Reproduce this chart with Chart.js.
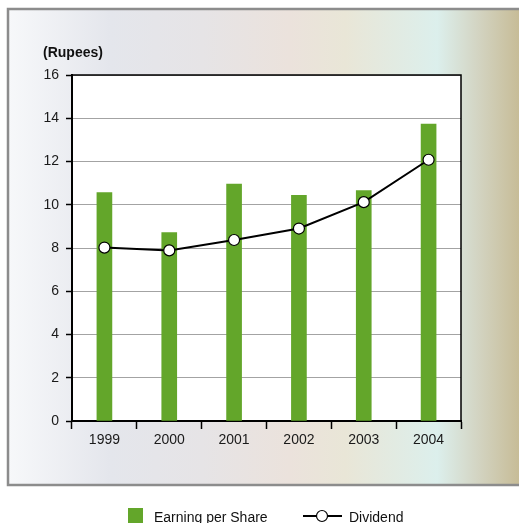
<!DOCTYPE html>
<html>
<head>
<meta charset="utf-8">
<script src="https://cdn.jsdelivr.net/npm/chart.js@4.4.1/dist/chart.umd.min.js"></script>
<style>
  html, body { margin: 0; padding: 0; background: #fff; overflow: hidden; }
  #wrap { width: 519px; height: 523px; }
</style>
</head>
<body>
<div id="wrap"><canvas id="grafico" width="519" height="523"></canvas></div>
<script>
// Dados: EPS e dividendo por ano (em rúpias)
const anos = ['1999', '2000', '2001', '2002', '2003', '2004'];
const lucroPorAcao = [10.56, 8.71, 10.96, 10.43, 10.66, 13.73];
const dividendo = [8.02, 7.89, 8.37, 8.9, 10.12, 12.08];
const unidade = '(Rupees)';
const nomesSeries = ['Earning per Share', 'Dividend'];

const VERDE = '#63a62a';
const FONTE = "Arial, 'Liberation Sans', sans-serif";

// Fundo com degradê, legenda e rótulo de unidade
const decoracao = {
    id: 'decoracao',
    beforeDraw(chart) {
        const ctx = chart.ctx;
        ctx.save();
        const grad = ctx.createLinearGradient(8, 0, 519, 0);
        grad.addColorStop(0.00, '#f7f8fa');
        grad.addColorStop(0.20, '#e4e6ec');
        grad.addColorStop(0.38, '#e6e4e6');
        grad.addColorStop(0.55, '#ebe2dc');
        grad.addColorStop(0.66, '#e9e6d7');
        grad.addColorStop(0.84, '#dcefec');
        grad.addColorStop(0.92, '#d3d4c2');
        grad.addColorStop(1.00, '#c7bc97');
        ctx.fillStyle = grad;
        ctx.fillRect(8, 9, 520, 476);
        ctx.strokeStyle = '#8c8c8c';
        ctx.lineWidth = 2.5;
        ctx.strokeRect(8, 9, 530, 476);

        const a = chart.chartArea;
        ctx.fillStyle = '#ffffff';
        ctx.fillRect(a.left, a.top, a.right - a.left, a.bottom - a.top);
        ctx.restore();
    },
    afterDraw(chart) {
        const ctx = chart.ctx;
        const a = chart.chartArea;
        ctx.save();
        // borda do gráfico
        ctx.strokeStyle = '#000';
        ctx.lineWidth = 1.5;
        ctx.beginPath();
        ctx.moveTo(a.left, a.top);
        ctx.lineTo(a.right, a.top);
        ctx.lineTo(a.right, a.bottom);
        ctx.stroke();

        ctx.fillStyle = '#111';
        ctx.font = 'bold 14px ' + FONTE;
        ctx.textBaseline = 'alphabetic';
        ctx.fillText(unidade, 43, 57);

        // legenda
        ctx.font = '14px ' + FONTE;
        ctx.fillStyle = VERDE;
        ctx.fillRect(128, 508, 15, 16);
        ctx.fillStyle = '#111';
        ctx.fillText(nomesSeries[0], 154, 522);

        ctx.strokeStyle = '#000';
        ctx.lineWidth = 2;
        ctx.beginPath();
        ctx.moveTo(303, 516);
        ctx.lineTo(342, 516);
        ctx.stroke();
        ctx.beginPath();
        ctx.arc(322, 516, 5.5, 0, Math.PI * 2);
        ctx.fillStyle = '#fff';
        ctx.fill();
        ctx.lineWidth = 1.2;
        ctx.stroke();
        ctx.fillStyle = '#111';
        ctx.fillText(nomesSeries[1], 349, 522);
        ctx.restore();
    }
};

Chart.defaults.font.family = FONTE;
Chart.defaults.font.size = 14;
Chart.defaults.color = '#1a1a1a';

new Chart(document.getElementById('grafico').getContext('2d'), {
    type: 'bar',
    data: {
        labels: anos,
        datasets: [
            {
                type: 'line',
                label: nomesSeries[1],
                data: dividendo,
                borderColor: '#000',
                borderWidth: 2,
                backgroundColor: '#fff',
                pointBackgroundColor: '#fff',
                pointBorderColor: '#000',
                pointBorderWidth: 1.2,
                pointRadius: 5.5,
                tension: 0,
                order: 0
            },
            {
                label: nomesSeries[0],
                data: lucroPorAcao,
                backgroundColor: VERDE,
                borderWidth: 0,
                barThickness: 15,
                order: 1
            }
        ]
    },
    options: {
        responsive: false,
        animation: false,
        devicePixelRatio: 1,
        layout: { padding: { top: 75, right: 58, left: 0, bottom: 0 } },
        plugins: {
            legend: { display: false },
            tooltip: { enabled: false }
        },
        scales: {
            x: {
                afterFit: (s) => { s.height = 102; },
                grid: {
                    offset: true,
                    drawOnChartArea: false,
                    drawTicks: true,
                    tickLength: 8,
                    tickColor: '#000',
                    tickWidth: 1.5
                },
                border: { color: '#000', width: 2 },
                ticks: { padding: 3 }
            },
            y: {
                min: 0,
                max: 16,
                afterFit: (s) => { s.width = 72; },
                grid: {
                    color: '#a3a3a3',
                    lineWidth: 1,
                    tickLength: 6,
                    tickColor: '#000',
                    tickWidth: 1.5
                },
                border: { color: '#000', width: 2 },
                ticks: { stepSize: 2, padding: 7 }
            }
        }
    },
    plugins: [decoracao]
});
</script>
</body>
</html>
